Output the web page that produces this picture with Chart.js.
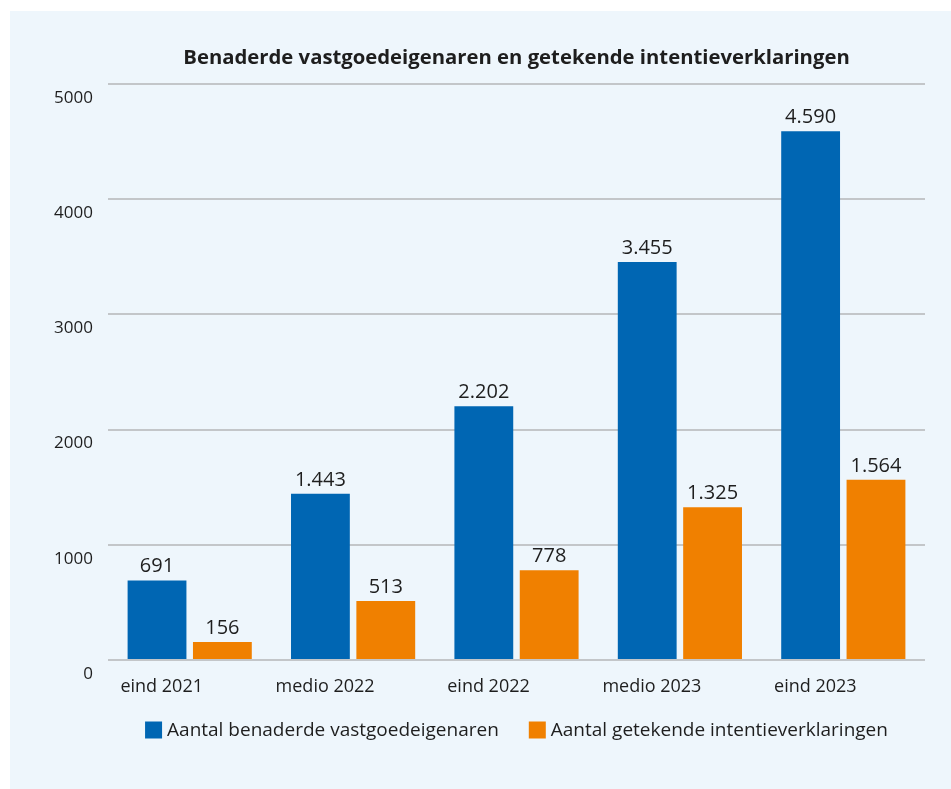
<!DOCTYPE html>
<html>
<head>
<meta charset="utf-8">
<script src="https://cdn.jsdelivr.net/npm/chart.js@4"></script>
<style>
    body { margin: 0; background: #ffffff; }
    #panel {
        position: absolute;
        left: 10px; top: 11px;
        width: 941px; height: 778px;
        background: #eef6fc;
    }
</style>
</head>
<body>
<div id="panel"><canvas id="chart"></canvas></div>
<script>
const categories = ["eind 2021", "medio 2022", "eind 2022", "medio 2023", "eind 2023"];
const benaderd = [691, 1443, 2202, 3455, 4590];
const getekend = [156, 513, 778, 1325, 1564];
const seriesNames = ["Aantal benaderde vastgoedeigenaren", "Aantal getekende intentieverklaringen"];
const yTicks = [0, 1000, 2000, 3000, 4000, 5000];
const titleText = "Benaderde vastgoedeigenaren en getekende intentieverklaringen";

const FONT = "'Open Sans', 'Noto Sans', sans-serif";
const TEXT = "#1e1e1e";
const BLUE = "#0066b3";
const ORANGE = "#f08000";

// dutch thousands separator
function fmt(v) {
    return String(v).replace(/\B(?=(\d{3})+(?!\d))/g, ".");
}

// title + value labels + legend, all centred on the plot area
const extras = {
    id: "extras",
    afterDraw(chart) {
        const ctx = chart.ctx;
        const area = chart.chartArea;
        const cx = (area.left + area.right) / 2;

        ctx.save();
        ctx.fillStyle = TEXT;
        ctx.textAlign = "center";
        ctx.textBaseline = "middle";
        ctx.font = "bold 20.3px " + FONT;
        ctx.fillText(titleText, cx, 47);

        // values above bars
        ctx.font = "20px " + FONT;
        ctx.textBaseline = "alphabetic";
        chart.data.datasets.forEach((ds, i) => {
            chart.getDatasetMeta(i).data.forEach((bar, j) => {
                ctx.fillText(fmt(ds.data[j]), bar.x, bar.y - 8);
            });
        });

        // legend
        const box = 17, gap = 5, between = 30;
        ctx.font = "19px " + FONT;
        const widths = seriesNames.map(n => ctx.measureText(n).width);
        const total = box * 2 + gap * 2 + widths[0] + widths[1] + between;
        let x = cx - total / 2;
        const y = 719;
        ctx.textAlign = "left";
        ctx.textBaseline = "middle";
        chart.data.datasets.forEach((ds, i) => {
            ctx.fillStyle = ds.backgroundColor;
            ctx.fillRect(x, y - box / 2, box, box);
            x += box + gap;
            ctx.fillStyle = TEXT;
            ctx.fillText(seriesNames[i], x, y + 1);
            x += widths[i] + between;
        });
        ctx.restore();
    }
};

new Chart(document.getElementById("chart"), {
    type: "bar",
    data: {
        labels: categories,
        datasets: [
            { label: seriesNames[0], data: benaderd, backgroundColor: BLUE },
            { label: seriesNames[1], data: getekend, backgroundColor: ORANGE }
        ]
    },
    options: {
        responsive: true,
        maintainAspectRatio: false,
        animation: false,
        layout: { padding: { top: 73, right: 26, bottom: 89, left: 0 } },
        datasets: {
            bar: { categoryPercentage: 0.8, barPercentage: 0.9 }
        },
        plugins: {
            legend: { display: false },
            title: { display: false },
            tooltip: { enabled: false }
        },
        scales: {
            x: {
                grid: { display: false },
                border: { display: false },
                ticks: {
                    color: TEXT,
                    font: { family: FONT, size: 18 },
                    padding: 8,
                    labelOffset: -28
                },
                afterFit(scale) { scale.height = 40; }
            },
            y: {
                min: 0,
                max: 5000,
                afterBuildTicks(scale) {
                    scale.ticks = yTicks.map(v => ({ value: v }));
                },
                grid: { color: "#c3c6c9", lineWidth: 2, drawTicks: false },
                border: { display: false },
                ticks: {
                    color: TEXT,
                    font: { family: FONT, size: 17 },
                    padding: 15,
                    labelOffset: 14,
                    callback: v => String(v)
                },
                afterFit(scale) { scale.width = 98; }
            }
        }
    },
    plugins: [extras]
});
</script>
</body>
</html>
